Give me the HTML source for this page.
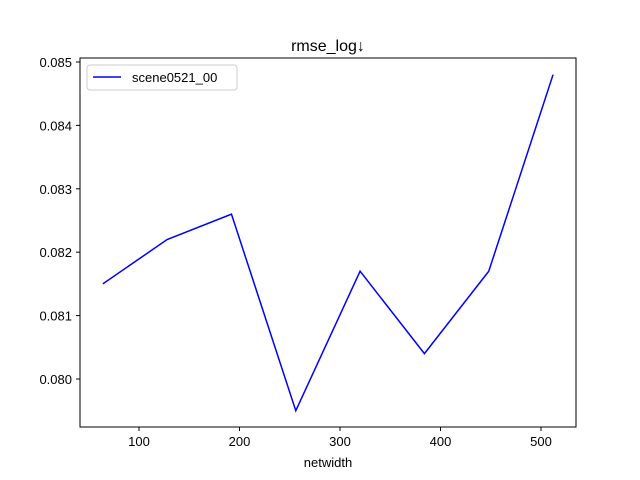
<!DOCTYPE html>
<html><head><meta charset="utf-8"><style>body{margin:0;background:#fff}svg{display:block;font-family:"Liberation Sans","DejaVu Sans",sans-serif}</style></head>
<body>
<svg id="chart" width="640" height="480">
<rect width="640" height="480" fill="#fff"/>
<text x="328" y="51" text-anchor="middle" font-size="16">rmse_log↓</text>
<g id="axes"></g>
<rect x="80" y="58" width="496" height="369" fill="none" stroke="#000" stroke-width="1"/>
<text x="328" y="467" text-anchor="middle" font-size="13">netwidth</text>
<g>
<rect x="87" y="65" width="150" height="25" rx="3" fill="#fff" stroke="#ccc"/>
<line x1="93" y1="77" x2="121" y2="77" stroke="blue" stroke-width="1.5"/>
<text x="132" y="82" font-size="13">scene0521_00</text>
</g>
</svg>
<script>
const xValues=[64,128,192,256,320,384,448,512];
const yValues=[0.0815,0.0822,0.0826,0.0795,0.0817,0.0804,0.0817,0.0848];
const xTicks=[100,200,300,400,500];
const yTicks=[0.080,0.081,0.082,0.083,0.084,0.085];
const NS="http://www.w3.org/2000/svg";
const sx=v=>38.5+v*1.005;
const sy=v=>379-(v-0.080)*63400;
const g=document.getElementById('axes');
function mk(t,a){const e=document.createElementNS(NS,t);for(const k in a)e.setAttribute(k,a[k]);return e;}
xTicks.forEach(t=>{
 const l=mk('line',{x1:sx(t),x2:sx(t),y1:427,y2:431,stroke:'#000'});
 
 
 g.appendChild(l);
 const tx=mk('text',{x:sx(t),y:446,'text-anchor':'middle','font-size':13});
 tx.textContent=t;
 
 
 g.appendChild(tx);
});
yTicks.forEach(t=>{
 const l=mk('line',{x1:76,x2:80,y1:sy(t),y2:sy(t),stroke:'#000'});
 
 
 g.appendChild(l);
 const tx=mk('text',{x:72,y:sy(t)+5,'text-anchor':'end','font-size':13});
 tx.textContent=t.toFixed(3);
 
 
 g.appendChild(tx);
});
const p=mk('polyline',{points:xValues.map((x,i)=>sx(x)+','+sy(yValues[i])).join(' '),fill:'none',stroke:'blue','stroke-width':1.5});


g.appendChild(p);
</script>
</body></html>
